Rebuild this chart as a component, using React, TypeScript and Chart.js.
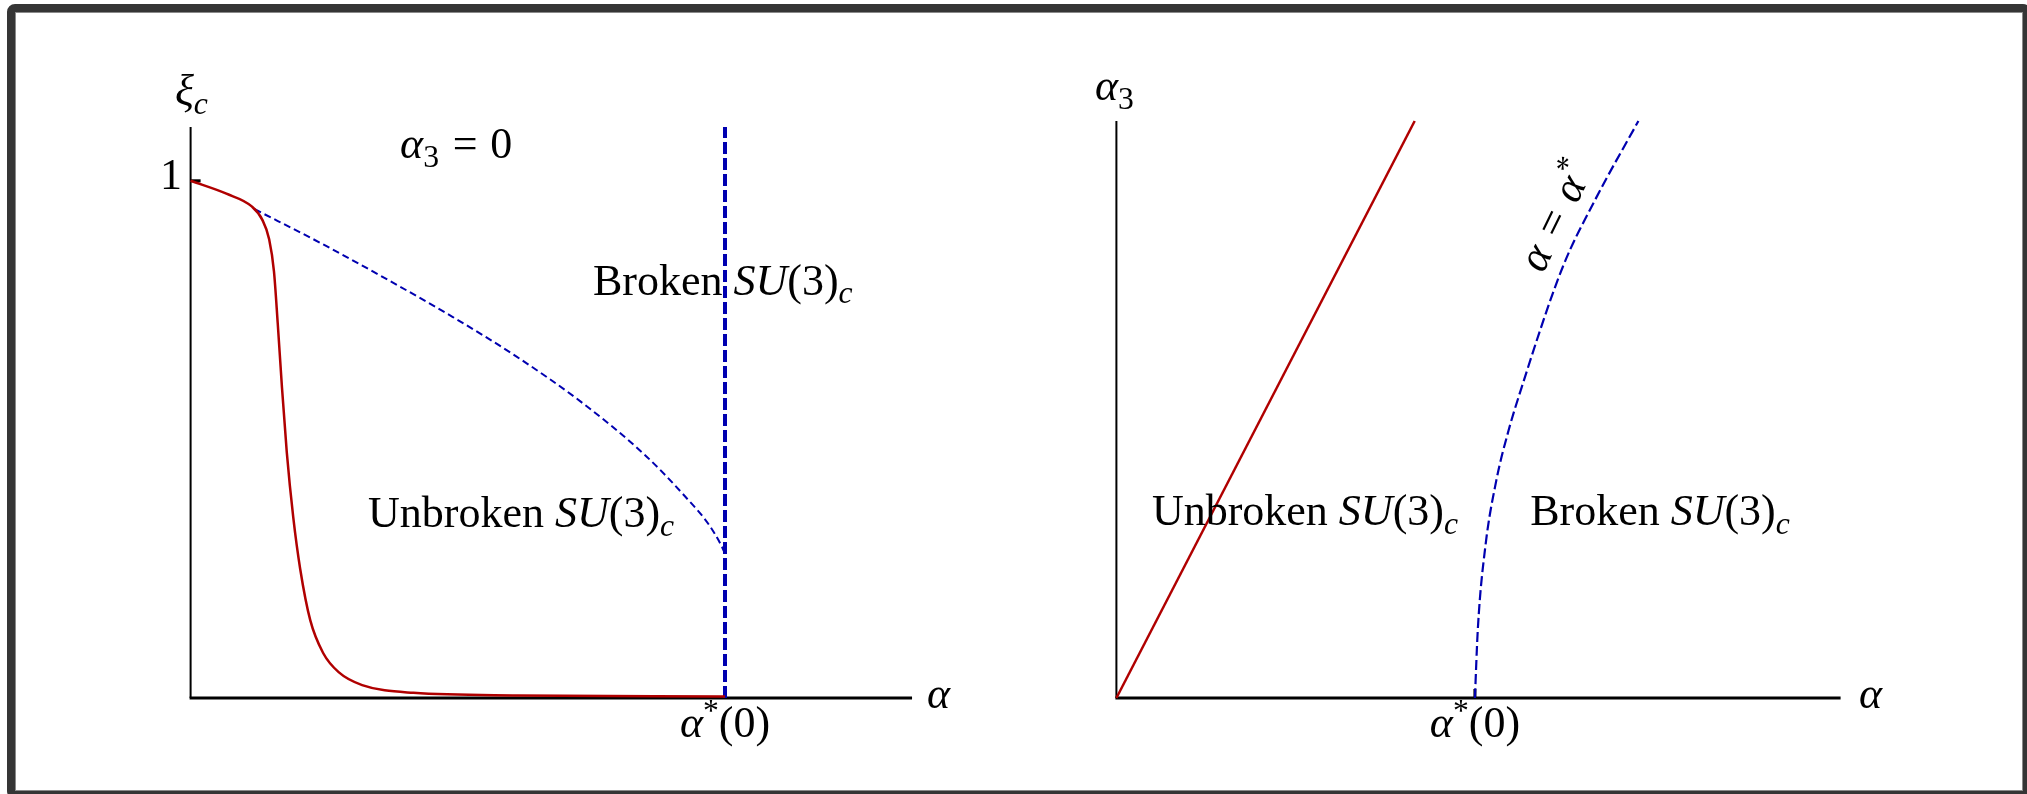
import React, { useEffect, useRef } from "react";
import { Chart, registerables } from "chart.js";

Chart.register(...registerables);

// ---- Left panel: ξ_c against α at α3 = 0 ----
const xiCurveAlpha = [0, 0.067, 0.115, 0.134, 0.147, 0.156, 0.163, 0.171, 0.18, 0.192, 0.205, 0.224, 0.248, 0.277, 0.321, 0.417, 0.611, 1.0];
const xiCurveValue = [1.0, 0.975, 0.95, 0.925, 0.887, 0.825, 0.725, 0.6, 0.475, 0.35, 0.25, 0.15, 0.087, 0.05, 0.025, 0.01, 0.005, 0.003];

const boundaryAlpha = [0.12, 0.25, 0.37, 0.49, 0.61, 0.73, 0.85, 0.925, 0.97, 0.993, 1.0];
const boundaryXi = [0.945, 0.876, 0.808, 0.737, 0.66, 0.573, 0.47, 0.39, 0.335, 0.295, 0.279];

const criticalLineAlpha = [1, 1];
const criticalLineXi = [0, 1.104];

const leftXTicks = [1];
const leftYTicks = [1];

// ---- Right panel: phase diagram in the (α, α3) plane ----
const unbrokenEdgeAlpha = [0, 0.832];
const unbrokenEdgeAlpha3 = [0, 1.0];

const criticalCurveAlpha = [1.0, 1.008, 1.029, 1.06, 1.094, 1.122, 1.245, 1.335, 1.456];
const criticalCurveAlpha3 = [0, 0.118, 0.262, 0.378, 0.464, 0.522, 0.747, 0.863, 1.0];

const rightXTicks = [1];

const RED = "#b00000";
const BLUE = "#0000b0";
const FONT = '"Liberation Serif", "Times New Roman", Times, serif';
const BASE = 44;

type Run = { t: string; it?: boolean; k?: number; dy?: number; gap?: number };
type Label = {
  x: number;
  y: number;
  runs: Run[];
  align?: "left" | "right" | "center";
  angle?: number;
};

const zip = (xs: number[], ys: number[]) => xs.map((x, i) => ({ x, y: ys[i] }));

function setFont(ctx: CanvasRenderingContext2D, r: Run) {
  const fs = BASE * (r.k ?? 1);
  ctx.font = `${r.it ? "italic " : ""}${fs}px ${FONT}`;
}

function runsWidth(ctx: CanvasRenderingContext2D, runs: Run[]) {
  let w = 0;
  for (const r of runs) {
    setFont(ctx, r);
    w += ctx.measureText(r.t).width + (r.gap ?? 0) * BASE;
  }
  return w;
}

function drawLabel(ctx: CanvasRenderingContext2D, px: number, py: number, lab: Label) {
  ctx.save();
  ctx.translate(px, py);
  if (lab.angle) ctx.rotate((lab.angle * Math.PI) / 180);
  ctx.textBaseline = "alphabetic";
  ctx.textAlign = "left";
  ctx.fillStyle = "#000";
  const total = runsWidth(ctx, lab.runs);
  let cx = lab.align === "right" ? -total : lab.align === "center" ? -total / 2 : 0;
  for (const r of lab.runs) {
    setFont(ctx, r);
    ctx.fillText(r.t, cx, (r.dy ?? 0) * BASE);
    cx += ctx.measureText(r.t).width + (r.gap ?? 0) * BASE;
  }
  ctx.restore();
}

function makeFramePlugin(opts: { xTicks: number[]; yTicks: number[]; labels: Label[] }) {
  return {
    id: "phaseFrame",
    beforeDatasetsDraw(chart: any) {
      const { ctx } = chart;
      const xs = chart.scales.x;
      const ys = chart.scales.y;
      const x0 = xs.getPixelForValue(0);
      const y0 = ys.getPixelForValue(0);
      ctx.save();
      ctx.strokeStyle = "#000";
      ctx.lineCap = "butt";
      ctx.lineWidth = 2;
      ctx.beginPath();
      ctx.moveTo(x0, y0);
      ctx.lineTo(x0, ys.getPixelForValue(ys.max));
      ctx.stroke();
      ctx.lineWidth = 3;
      ctx.beginPath();
      ctx.moveTo(x0 - 1, y0);
      ctx.lineTo(xs.getPixelForValue(xs.max), y0);
      ctx.stroke();
      for (const v of opts.xTicks) {
        const p = xs.getPixelForValue(v);
        ctx.beginPath();
        ctx.moveTo(p, y0);
        ctx.lineTo(p, y0 - 9);
        ctx.stroke();
      }
      for (const v of opts.yTicks) {
        const p = ys.getPixelForValue(v);
        ctx.beginPath();
        ctx.moveTo(x0, p);
        ctx.lineTo(x0 + 10, p);
        ctx.stroke();
      }
      ctx.restore();
    },
    afterDatasetsDraw(chart: any) {
      const { ctx } = chart;
      const xs = chart.scales.x;
      const ys = chart.scales.y;
      for (const lab of opts.labels) {
        drawLabel(ctx, xs.getPixelForValue(lab.x), ys.getPixelForValue(lab.y), lab);
      }
    },
  };
}

const SUB = { k: 0.72, dy: 0.2 };
const SUP = { k: 0.72, dy: -0.36 };
const su3 = (word: string): Run[] => [
  { t: word + " " },
  { t: "SU", it: true },
  { t: "(3)" },
  { t: "c", it: true, ...SUB },
];
const alphaStarZero: Run[] = [{ t: "α", it: true }, { t: "*", ...SUP }, { t: "(0)" }];

const leftLabels: Label[] = [
  { x: -0.0292, y: 1.147, runs: [{ t: "ξ", it: true }, { t: "c", it: true, ...SUB }] },
  { x: -0.0161, y: 0.9845, runs: [{ t: "1" }], align: "right" },
  { x: 0.392, y: 1.044, runs: [{ t: "α", it: true }, { t: "3", ...SUB, gap: 0.06 }, { t: " = ", gap: 0.04 }, { t: "0" }] },
  { x: 0.753, y: 0.78, runs: su3("Broken") },
  { x: 0.332, y: 0.331, runs: su3("Unbroken") },
  { x: 1, y: -0.0754, runs: alphaStarZero, align: "center" },
  { x: 1.378, y: -0.019, runs: [{ t: "α", it: true }] },
];

const rightLabels: Label[] = [
  { x: -0.06, y: 1.036, runs: [{ t: "α", it: true }, { t: "3", ...SUB }] },
  { x: 0.099, y: 0.3, runs: su3("Unbroken") },
  { x: 1.154, y: 0.3, runs: su3("Broken") },
  { x: 1, y: -0.0676, runs: alphaStarZero, align: "center" },
  { x: 2.071, y: -0.017, runs: [{ t: "α", it: true }] },
  {
    x: 1.19,
    y: 0.735,
    angle: -64,
    runs: [
      { t: "α", it: true, gap: 0.08 },
      { t: " = ", gap: 0.08 },
      { t: "α", it: true },
      { t: "*", ...SUP },
    ],
  },
];

function buildLeft(): any {
  return {
    type: "line",
    data: {
      datasets: [
        {
          data: zip(xiCurveAlpha, xiCurveValue),
          borderColor: RED,
          borderWidth: 2.5,
          cubicInterpolationMode: "monotone",
          pointRadius: 0,
          clip: false,
        },
        {
          data: zip(boundaryAlpha, boundaryXi),
          borderColor: BLUE,
          borderWidth: 2,
          borderDash: [7, 4],
          cubicInterpolationMode: "monotone",
          pointRadius: 0,
          clip: false,
        },
        {
          data: zip(criticalLineAlpha, criticalLineXi),
          borderColor: BLUE,
          borderWidth: 4,
          borderDash: [12, 4],
          pointRadius: 0,
          clip: false,
        },
      ],
    },
    options: {
      animation: false,
      responsive: false,
      events: [],
      layout: { padding: { left: 190.6, top: 127, right: 100.96, bottom: 96 } },
      plugins: { legend: { display: false }, tooltip: { enabled: false } },
      scales: {
        x: { type: "linear", min: 0, max: 1.35, display: false },
        y: { type: "linear", min: 0, max: 1.104, display: false },
      },
    },
    plugins: [makeFramePlugin({ xTicks: leftXTicks, yTicks: leftYTicks, labels: leftLabels })],
  };
}

function buildRight(): any {
  return {
    type: "line",
    data: {
      datasets: [
        {
          data: zip(unbrokenEdgeAlpha, unbrokenEdgeAlpha3),
          borderColor: RED,
          borderWidth: 2.5,
          pointRadius: 0,
          clip: false,
        },
        {
          data: zip(criticalCurveAlpha, criticalCurveAlpha3),
          borderColor: BLUE,
          borderWidth: 2.2,
          borderDash: [10, 4],
          cubicInterpolationMode: "monotone",
          pointRadius: 0,
          clip: false,
        },
      ],
    },
    options: {
      animation: false,
      responsive: false,
      events: [],
      layout: { padding: { left: 103.4, top: 121, right: 186.4, bottom: 96 } },
      plugins: { legend: { display: false }, tooltip: { enabled: false } },
      scales: {
        x: { type: "linear", min: 0, max: 2.02, display: false },
        y: { type: "linear", min: 0, max: 1.0, display: false },
      },
    },
    plugins: [makeFramePlugin({ xTicks: rightXTicks, yTicks: [], labels: rightLabels })],
  };
}

function Panel(props: { left: number; width: number; build: () => any }) {
  const ref = useRef<HTMLCanvasElement>(null);
  useEffect(() => {
    const chart = new Chart(ref.current as HTMLCanvasElement, props.build());
    return () => chart.destroy();
  }, []);
  return (
    <canvas
      ref={ref}
      width={props.width}
      height={794}
      style={{ position: "absolute", left: props.left, top: 0, width: props.width, height: 794 }}
    />
  );
}

export default function App() {
  return (
    <div
      style={{
        position: "fixed",
        left: 0,
        top: 0,
        width: 2027,
        height: 794,
        overflow: "hidden",
        background: "#fff",
      }}
    >
      <div
        style={{
          position: "absolute",
          left: 7,
          top: 4,
          width: 2024,
          height: 795,
          boxSizing: "border-box",
          border: "8px solid #353535",
          borderRadius: 8,
          boxShadow: "inset 0 0 0 1px #8a8a8a",
        }}
      />
      <Panel left={0} width={1013} build={buildLeft} />
      <Panel left={1013} width={1014} build={buildRight} />
    </div>
  );
}
